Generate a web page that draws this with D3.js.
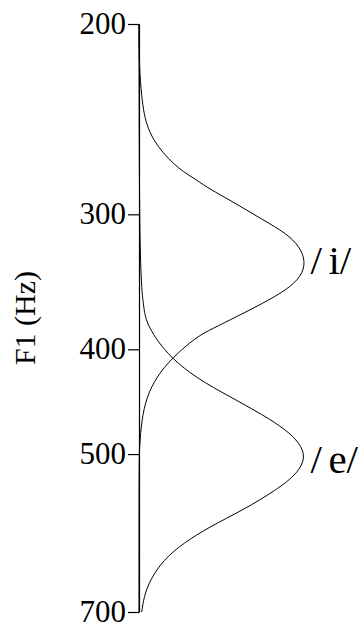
<!DOCTYPE html>
<html>
<head>
<meta charset="utf-8">
<script src="https://cdn.jsdelivr.net/npm/d3@7"></script>
<style>
  body { margin: 0; background: #fff; }
  svg { display: block; }
</style>
</head>
<body>
<div id="chart"></div>
<script>
// F1 tick values (Hz), log axis
var f1Ticks = [200, 300, 400, 500, 700];

// /i/ distribution: F1 (Hz) and relative density
var iF1 = [200, 216, 230.2, 240.2, 248, 256, 263.4, 269.1, 274, 278.8, 284.4, 291, 303.6, 312.4, 321.4, 331.8, 342.6, 352.5, 362.6, 373.1, 383.2, 389.4, 407.7, 424, 442.4, 465, 492.2, 520, 700];
var iDensity = [0, 0, 0.012, 0.026, 0.046, 0.086, 0.146, 0.205, 0.265, 0.345, 0.425, 0.545, 0.744, 0.884, 0.964, 1.0, 0.974, 0.884, 0.744, 0.585, 0.435, 0.345, 0.196, 0.106, 0.046, 0.016, 0.002, 0, 0];

// /e/ distribution
var eF1 = [200, 333, 365.2, 375.7, 382.4, 392.1, 407.7, 425.4, 442.4, 460, 475, 488.6, 502.8, 520.8, 539.8, 563.2, 583.6, 604.6, 626.5, 653.8, 677.4, 700];
var eDensity = [0, 0.002, 0.026, 0.042, 0.066, 0.106, 0.196, 0.345, 0.545, 0.744, 0.884, 0.964, 1.0, 0.954, 0.824, 0.625, 0.425, 0.265, 0.146, 0.066, 0.030, 0.016];

var vowelNames = ["i", "e"];

var serif = "'Liberation Serif', 'Times New Roman', serif";
var width = 361;
var height = 623;

var svg = d3
  .select("#chart")
  .append("svg")
  .attr("width", width)
  .attr("height", height);

var yScale = d3.scaleLog().domain([200, 700]).range([24, 612]);
var xScale = d3.scaleLinear().domain([0, 1]).range([139, 305.7]);

var yAxis = d3.axisLeft(yScale)
  .tickValues(f1Ticks)
  .tickFormat(d3.format("d"))
  .tickSize(11)
  .tickSizeOuter(0)
  .tickPadding(2);

var axisG = svg.append("g")
  .attr("transform", "translate(139,0)")
  .call(yAxis)
  .attr("font-family", serif)
  .attr("font-size", 31);
axisG.select(".domain").attr("stroke", "#000").attr("stroke-width", 1.2);
axisG.selectAll(".tick line").attr("stroke", "#000").attr("stroke-width", 1.2);
axisG.selectAll(".tick text")
  .attr("fill", "#000")
  .attr("dy", "0.29em");

// y axis title
svg.append("text")
  .attr("transform", "translate(35,318)rotate(-90)")
  .attr("text-anchor", "middle")
  .attr("font-family", serif)
  .attr("font-size", 30)
  .text("F1 (Hz)");

var line = d3.line()
  .x(function(d) { return xScale(d[1]); })
  .y(function(d) { return yScale(d[0]); })
  .curve(d3.curveBasis);

var series = [
  { name: vowelNames[0], data: d3.zip(iF1, iDensity), dy: 12 },
  { name: vowelNames[1], data: d3.zip(eF1, eDensity), dy: 16 }
];

series.forEach(function(s) {
  svg.append("path")
    .datum(s.data)
    .attr("fill", "none")
    .attr("stroke", "#000")
    .attr("stroke-width", 1)
    .attr("d", line);

  // label next to the peak
  var peak = d3.greatest(s.data, function(d) { return d[1]; });
  var t = svg.append("text")
    .attr("font-family", serif)
    .attr("font-size", 41)
    .attr("x", xScale(peak[1]) + 4.8)
    .attr("y", yScale(peak[0]) + s.dy);
  t.append("tspan").text("/");
  t.append("tspan").attr("dx", 6.5).text(s.name + "/");
});
</script>
</body>
</html>
